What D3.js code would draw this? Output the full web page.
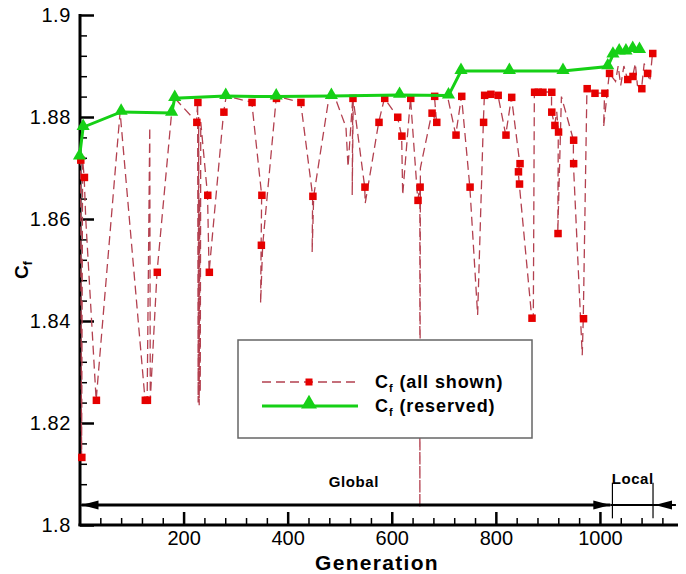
<!DOCTYPE html>
<html>
<head>
<meta charset="utf-8">
<script src="https://cdn.jsdelivr.net/npm/d3@7.9.0/dist/d3.min.js"></script>
<style>
  body { margin: 0; background: #fff; }
  svg { display: block; font-family: "Liberation Sans", Arial, sans-serif; }
</style>
</head>
<body>
<div id="chart"></div>
<script>
// Cf of every evaluated design, in the order they were evaluated (gen, Cf)
const allShown = [
  [0, 1.8722], [2, 1.8716], [4, 1.8133], [6, 1.8716], [9, 1.8682], [12, 1.8600],
  [32, 1.8245], [78, 1.8810], [126, 1.8245], [130, 1.8245], [135, 1.8780], [136, 1.8245],
  [149, 1.8496], [177, 1.8808], [183, 1.8837], [225, 1.8790], [227, 1.8829], [228, 1.8240],
  [229, 1.8800], [230, 1.8235], [231, 1.8640], [232, 1.8260], [233, 1.8790], [246, 1.8647],
  [249, 1.8496], [277, 1.8810], [282, 1.8841], [331, 1.8829], [350, 1.8647], [349, 1.8549],
  [348, 1.8435], [352, 1.8549], [378, 1.8837], [381, 1.8840], [425, 1.8829], [448, 1.8645],
  [447, 1.8535], [450, 1.8645], [480, 1.8843], [493, 1.8833], [512, 1.8780], [516, 1.8702],
  [525, 1.8837], [524, 1.8647], [526, 1.8835], [548, 1.8663], [549, 1.8631], [575, 1.8790],
  [586, 1.8837], [611, 1.8800], [619, 1.8763], [621, 1.8647], [636, 1.8837], [650, 1.8637],
  [654, 1.8663], [654, 1.8035], [655, 1.8700], [677, 1.8808], [686, 1.8790], [682, 1.8841],
  [707, 1.8841], [723, 1.8765], [734, 1.8841], [750, 1.8663], [765, 1.8412], [776, 1.8790],
  [778, 1.8843], [790, 1.8845], [804, 1.8843], [819, 1.8765], [830, 1.8839], [846, 1.8709],
  [843, 1.8693], [845, 1.8669], [869, 1.8406], [872, 1.8406], [874, 1.8849], [881, 1.8849],
  [890, 1.8849], [907, 1.8849], [907, 1.8810], [913, 1.8784], [917, 1.8810], [920, 1.8771],
  [919, 1.8572], [926, 1.8840], [949, 1.8755], [949, 1.8709], [966, 1.8333], [968, 1.8405],
  [975, 1.8856], [990, 1.8847], [1009, 1.8847], [1007, 1.8780], [1018, 1.8886], [1030, 1.8870],
  [1035, 1.8900], [1040, 1.8862], [1046, 1.8900], [1053, 1.8874], [1063, 1.8880], [1068, 1.8905],
  [1072, 1.8862], [1080, 1.8856], [1085, 1.8905], [1091, 1.8886], [1096, 1.8870], [1101, 1.8925]
];

// the square symbols that are visible on the red curve
const shownMarkers = [
  [2, 1.8716], [4, 1.8133], [9, 1.8682], [32, 1.8245], [126, 1.8245], [130, 1.8245],
  [149, 1.8496], [225, 1.8790], [227, 1.8829], [246, 1.8647], [249, 1.8496], [277, 1.8810],
  [331, 1.8829], [350, 1.8647], [349, 1.8549], [378, 1.8837], [425, 1.8829], [448, 1.8645],
  [525, 1.8837], [548, 1.8663], [575, 1.8790], [586, 1.8837], [611, 1.8800], [619, 1.8763],
  [636, 1.8837], [650, 1.8637], [654, 1.8663], [677, 1.8808], [686, 1.8790], [682, 1.8841],
  [723, 1.8765], [734, 1.8841], [750, 1.8663], [776, 1.8790], [778, 1.8843], [790, 1.8845],
  [804, 1.8843], [819, 1.8765], [830, 1.8839], [846, 1.8709], [843, 1.8693], [845, 1.8669],
  [869, 1.8406], [874, 1.8849], [881, 1.8849], [890, 1.8849], [907, 1.8849], [907, 1.8810],
  [913, 1.8784], [920, 1.8771], [919, 1.8572], [949, 1.8755], [949, 1.8709], [968, 1.8405],
  [975, 1.8856], [990, 1.8847], [1009, 1.8847], [1018, 1.8886], [1053, 1.8874], [1063, 1.8880],
  [1080, 1.8856], [1091, 1.8886], [1101, 1.8925]
];

// best (reserved) Cf
const reserved = [
  [0, 1.8722], [7, 1.8780], [80, 1.8810], [177, 1.8808], [183, 1.8837], [281, 1.8841],
  [378, 1.8840], [484, 1.8841], [615, 1.8843], [709, 1.8842], [733, 1.8890], [826, 1.8890],
  [929, 1.8890], [1015, 1.8899], [1025, 1.8922], [1037, 1.8928], [1050, 1.8928],
  [1063, 1.8933], [1076, 1.8931]
];

const xMajor = [200, 400, 600, 800, 1000];
const yMajor = [1.8, 1.82, 1.84, 1.86, 1.88, 1.9];
const legendLabels = ['(all shown)', '(reserved)'];
// phase annotation: [start gen, end gen]
const globalPhase = [0, 1020];
const localPhase = [1024, 1102];
const phaseEnd = 1146;

const width = 686;
const height = 574;
const redLine = '#b3404f';
const redMark = '#e60000';
const green = '#16d016';

const x = d3.scaleLinear().domain([0, 1150]).range([79.5, 678]);
const y = d3.scaleLinear().domain([1.8, 1.9]).range([525, 15]);

const svg = d3.select('#chart').append('svg')
    .attr('width', width)
    .attr('height', height);

const xMinor = d3.range(0, 1150, 40).filter(v => !xMajor.includes(v));
const yMinor = d3.range(1.8, 1.9001, 0.004).filter(v => !yMajor.some(m => Math.abs(m - v) < 1e-6));

// minor ticks
svg.append('g')
    .attr('transform', 'translate(80,0)')
    .call(d3.axisLeft(y).tickValues(yMinor).tickSize(-7).tickFormat('').tickSizeOuter(0))
    .call(g => g.select('.domain').remove())
    .selectAll('line').attr('stroke-width', 1.5);

svg.append('g')
    .attr('transform', 'translate(0,525)')
    .call(d3.axisBottom(x).tickValues(xMinor).tickSize(-7).tickFormat('').tickSizeOuter(0))
    .call(g => g.select('.domain').remove())
    .selectAll('line').attr('stroke-width', 1.5);

// major ticks + labels
svg.append('g')
    .attr('transform', 'translate(80,0)')
    .call(d3.axisLeft(y).tickValues(yMajor).tickSize(-14).tickPadding(9).tickSizeOuter(0)
        .tickFormat(d => String(+d.toFixed(2))))
    .call(g => g.select('.domain').remove())
    .call(g => g.selectAll('line').attr('stroke-width', 2.5))
    .call(g => g.selectAll('text').attr('font-size', 20).attr('fill', '#000')
        .attr('letter-spacing', 0.6)
        .attr('font-family', '"Liberation Sans", Arial, sans-serif'));

svg.append('g')
    .attr('transform', 'translate(0,525)')
    .call(d3.axisBottom(x).tickValues(xMajor).tickSize(-13).tickPadding(6).tickSizeOuter(0)
        .tickFormat(d3.format('d')))
    .call(g => g.select('.domain').remove())
    .call(g => g.selectAll('line').attr('stroke-width', 2.5))
    .call(g => g.selectAll('text').attr('font-size', 20).attr('fill', '#000')
        .attr('font-family', '"Liberation Sans", Arial, sans-serif'));

// axis lines
svg.append('line').attr('x1', 80).attr('x2', 80).attr('y1', 14).attr('y2', 526)
    .attr('stroke', '#000').attr('stroke-width', 3);
svg.append('line').attr('x1', 78.5).attr('x2', 678).attr('y1', 525).attr('y2', 525)
    .attr('stroke', '#000').attr('stroke-width', 3);

// all shown (dashed red)
const line = d3.line().x(d => x(d[0])).y(d => y(d[1]));
svg.append('path')
    .datum(allShown)
    .attr('d', line)
    .attr('fill', 'none')
    .attr('stroke', redLine)
    .attr('stroke-width', 1.3)
    .attr('stroke-dasharray', '9,5');

svg.append('g')
    .selectAll('rect')
    .data(shownMarkers)
    .join('rect')
    .attr('x', d => x(d[0]) - 3.5)
    .attr('y', d => y(d[1]) - 3.5)
    .attr('width', 7.5)
    .attr('height', 7.5)
    .attr('fill', redMark);

// reserved (green)
svg.append('path')
    .datum(reserved)
    .attr('d', line)
    .attr('fill', 'none')
    .attr('stroke', green)
    .attr('stroke-width', 3);

const tri = d3.symbol().type(d3.symbolTriangle).size(75);
svg.append('g')
    .selectAll('path')
    .data(reserved)
    .join('path')
    .attr('transform', d => `translate(${x(d[0])},${y(d[1]) - 1})`)
    .attr('d', tri)
    .attr('fill', green);

// Global / Local annotation
const yA = y(1.8039);
const ann = svg.append('g').attr('stroke', '#000');
ann.append('line')
    .attr('x1', x(globalPhase[0]) + 2).attr('x2', x(globalPhase[1]))
    .attr('y1', yA).attr('y2', yA).attr('stroke-width', 3);
ann.append('line')
    .attr('x1', x(globalPhase[1])).attr('x2', x(phaseEnd))
    .attr('y1', yA).attr('y2', yA).attr('stroke-width', 2);
[localPhase[0], localPhase[1]].forEach(g => {
    ann.append('line')
        .attr('x1', x(g)).attr('x2', x(g))
        .attr('y1', y(1.8083)).attr('y2', y(1.8013))
        .attr('stroke-width', 1.2);
});
function arrowHead(tipX, dir) {
    const len = 17, hw = 4.5;
    ann.append('path')
        .attr('d', `M${tipX},${yA} L${tipX + dir * len},${yA - hw} L${tipX + dir * len},${yA + hw} Z`)
        .attr('fill', '#000').attr('stroke', 'none');
}
arrowHead(x(globalPhase[0]) + 2, 1);
arrowHead(x(globalPhase[1]), -1);
arrowHead(x(localPhase[1]) + 2, 1);

svg.append('text')
    .attr('x', x((globalPhase[0] + globalPhase[1]) / 2) + 9)
    .attr('y', yA - 18)
    .attr('text-anchor', 'middle')
    .attr('font-size', 15)
    .attr('font-weight', 'bold')
    .attr('letter-spacing', 0.6)
    .text('Global');
svg.append('text')
    .attr('x', x((localPhase[0] + localPhase[1]) / 2))
    .attr('y', yA - 21)
    .attr('text-anchor', 'middle')
    .attr('font-size', 15)
    .attr('font-weight', 'bold')
    .attr('letter-spacing', 0.6)
    .text('Local');

// axis titles
svg.append('text')
    .attr('x', 377)
    .attr('y', 570)
    .attr('text-anchor', 'middle')
    .attr('font-size', 21)
    .attr('font-weight', 'bold')
    .attr('letter-spacing', 1.3)
    .text('Generation');

const yTitle = svg.append('text')
    .attr('transform', 'translate(28,279) rotate(-90)')
    .attr('font-size', 19)
    .attr('font-weight', 'bold');
yTitle.append('tspan').text('C');
yTitle.append('tspan').attr('font-size', 12).attr('dy', 4).text('f');

// legend
const lg = svg.append('g');
lg.append('rect')
    .attr('x', 238).attr('y', 340).attr('width', 294).attr('height', 98)
    .attr('fill', '#fff').attr('stroke', '#666').attr('stroke-width', 1.5);
const legendRows = [
    { y: 382, color: redLine, dash: '9,5', w: 1.3, label: legendLabels[0] },
    { y: 406, color: green, dash: null, w: 3, label: legendLabels[1] }
];
legendRows.forEach((r, i) => {
    lg.append('line')
        .attr('x1', 262).attr('x2', 358).attr('y1', r.y).attr('y2', r.y)
        .attr('stroke', r.color).attr('stroke-width', r.w)
        .attr('stroke-dasharray', r.dash);
    if (i === 0) {
        lg.append('rect').attr('x', 305.5).attr('y', r.y - 3.5)
            .attr('width', 7).attr('height', 7).attr('fill', redMark);
    } else {
        lg.append('path').attr('transform', `translate(309,${r.y - 2})`)
            .attr('d', d3.symbol().type(d3.symbolTriangle).size(110)).attr('fill', green);
    }
    const t = lg.append('text')
        .attr('x', 375).attr('y', r.y + 6)
        .attr('font-size', 18).attr('font-weight', 'bold')
        .attr('letter-spacing', 0.9);
    t.append('tspan').text('C');
    t.append('tspan').attr('font-size', 11).attr('dy', 4).text('f');
    t.append('tspan').attr('dy', -4).text(' ' + r.label);
});
</script>
</body>
</html>
